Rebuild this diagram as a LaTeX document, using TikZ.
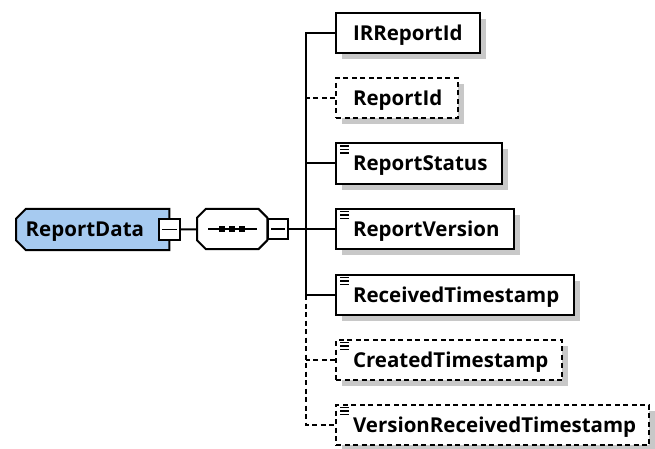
\documentclass[tikz,border=0pt]{standalone}
\usepackage{fontspec}
\setmainfont{Open Sans}
\usetikzlibrary{shadows,backgrounds}
\definecolor{shadowgray}{RGB}{200,200,200}
\definecolor{rootblue}{RGB}{166,202,240}
\newcommand{\elemtext}[2]{\makebox[#1][l]{\hspace*{17pt}#2}}
\newcommand{\simpleicon}[1]{\draw[line width=1.3pt,shift={(#1.north west)}] (5,3.5) -- (14,3.5) (5,7) -- (14,7) (5,10.5) -- (14,10.5);}
\newcommand{\rootpath}{([xshift=10pt]root.north west) -- (root.north east) -- (root.south east)
      -- ([xshift=10pt]root.south west) -- ([yshift=10pt]root.south west)
      -- ([yshift=-10pt]root.north west) -- cycle}
\newcommand{\seqpath}{([xshift=9pt]seq.north west) -- ([xshift=-9pt]seq.north east) -- ([yshift=-9pt]seq.north east)
      -- ([yshift=9pt]seq.south east) -- ([xshift=-9pt]seq.south east) -- ([xshift=9pt]seq.south west)
      -- ([yshift=9pt]seq.south west) -- ([yshift=-9pt]seq.north west) -- cycle}
\begin{document}
\begin{tikzpicture}[x=1pt,y=-1pt,
  lbl/.style={font=\fontsize{20.5}{24}\selectfont\bfseries, text height=14.6pt, text depth=0pt},
  shad/.style={general shadow={fill=shadowgray, shadow xshift=6pt, shadow yshift=-6pt}},
  elem/.style={lbl, draw, line width=2pt, fill=white, shad, minimum height=40pt, inner xsep=0pt, inner ysep=0pt, anchor=west},
  opt/.style={elem, dash pattern=on 5pt off 3.5pt},
  conn/.style={line width=2pt},
  optconn/.style={conn, dash pattern=on 5pt off 3.5pt},
  minusbox/.style={draw, fill=white, line width=1.8pt, inner sep=0pt, minimum width=20pt, minimum height=20pt,
    path picture={\draw[line width=1.6pt] ([xshift=3pt]path picture bounding box.west) -- ([xshift=-3pt]path picture bounding box.east);}},
]
\useasboundingbox (0,0) rectangle (655,449);
% root element
\node[lbl, minimum width=153pt, minimum height=41pt, inner xsep=0pt, inner ysep=0pt, anchor=west]
  (root) at (16,229.5) {\makebox[136pt][l]{\hspace*{1pt}ReportData}};
% sequence compositor
\node[minimum width=70pt, minimum height=40pt, inner sep=0pt, anchor=west] (seq) at (197,229) {};
\begin{scope}[on background layer]
  \fill[shadowgray, shift={(6,6)}] \rootpath;
  \filldraw[fill=rootblue, line width=2pt, line join=miter] \rootpath;
  \fill[shadowgray, shift={(6,6)}] \seqpath;
  \filldraw[fill=white, line width=2pt, line join=miter] \seqpath;
\end{scope}
\draw[line width=1.8pt] ([xshift=-24pt]seq.center) -- ([xshift=25pt]seq.center);
\foreach \dx in {-10,0,10} \fill ([xshift=\dx pt]seq.center) +(-3,-3) rectangle +(3,3);
\node[minusbox, minimum width=21pt, minimum height=21pt] (rootm) at (root.east) {};
\node[minusbox, anchor=west] (seqm) at (seq.east) {};
\coordinate (jn) at (306,229);
\draw[conn] (rootm) -- (seq);
\draw[conn] (seqm) -- (jn);
% children
\node[elem] (c1) at (335,33) {\elemtext{144pt}{IRReportId}};
\node[opt]  (c2) at (335,98) {\elemtext{122pt}{ReportId}};
\node[elem] (c3) at (335,163.5) {\elemtext{166pt}{ReportStatus}};
\node[elem] (c4) at (335,229) {\elemtext{178pt}{ReportVersion}};
\node[elem] (c5) at (335,295) {\elemtext{238pt}{ReceivedTimestamp}};
\node[opt]  (c6) at (335,360) {\elemtext{226pt}{CreatedTimestamp}};
\node[opt]  (c7) at (335,425) {\elemtext{313pt}{VersionReceivedTimestamp}};
\simpleicon{c3}
\simpleicon{c4}
\simpleicon{c5}
\simpleicon{c6}
\simpleicon{c7}
% connectors
\draw[conn] (c1.west) -- (jn |- c1.west) -- (jn |- c5.west) -- (c5.west);
\draw[optconn] (c2.west) -- (jn |- c2.west);
\draw[conn] (c3.west) -- (jn |- c3.west);
\draw[conn] (c4.west) -- (jn |- c4.west);
\draw[optconn] (jn |- c5.west) -- (jn |- c7.west) -- (c7.west);
\draw[optconn] (c6.west) -- (jn |- c6.west);
\end{tikzpicture}
\end{document}
